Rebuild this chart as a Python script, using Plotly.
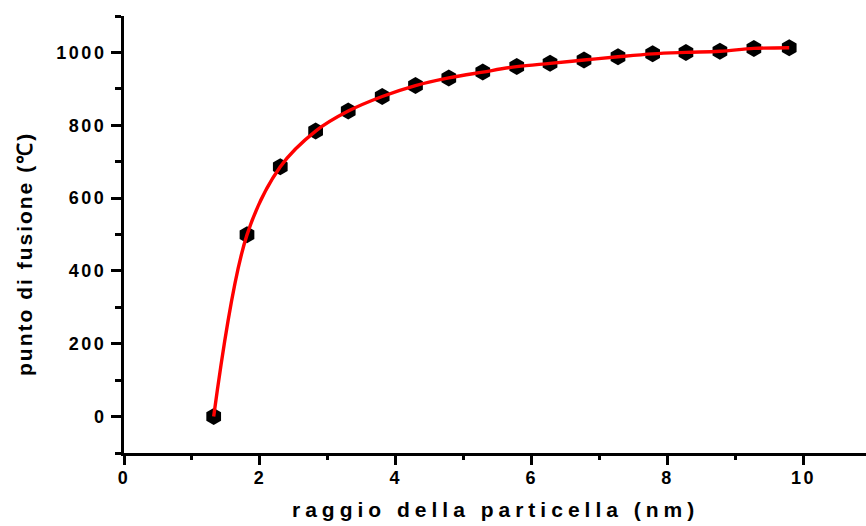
import plotly.graph_objects as go

# data
radius_nm = [1.32, 1.81, 2.30, 2.82, 3.30, 3.80, 4.29, 4.78, 5.28, 5.78,
             6.27, 6.77, 7.27, 7.78, 8.27, 8.77, 9.27, 9.79]
melting_C = [0, 499, 686, 784, 839, 879, 909, 930, 946, 961,
             970, 979, 988, 996, 1000, 1003, 1011, 1013]
x_ticks = [0, 2, 4, 6, 8, 10]
y_ticks = [0, 200, 400, 600, 800, 1000]
x_title = "raggio della particella (nm)"
y_title = "punto di fusione (℃)"

FONT = "Liberation Sans, Arial, sans-serif"

fig = go.Figure()
fig.add_trace(go.Scatter(
    x=radius_nm, y=melting_C, mode="markers",
    marker=dict(symbol="hexagon", size=17, color="black",
                line=dict(width=0)),
    showlegend=False, hoverinfo="skip"))
fig.add_trace(go.Scatter(
    x=radius_nm, y=melting_C, mode="lines",
    line=dict(color="#ff0000", width=3.4, shape="spline", smoothing=1.0),
    showlegend=False, hoverinfo="skip"))

axis_common = dict(
    showline=True, linecolor="black", linewidth=3,
    showgrid=False, zeroline=False, mirror=False, automargin=False,
    ticks="outside", tickcolor="black", tickwidth=3,
    tickfont=dict(family=FONT, size=18, color="black", weight=700),
)

fig.update_layout(
    width=866, height=526,
    margin=dict(l=124, r=0, t=16, b=73),
    paper_bgcolor="white", plot_bgcolor="white",
    xaxis=dict(range=[0, 10.92], tickvals=x_ticks,
               ticktext=[str(v) for v in x_ticks], ticklen=9,
               ticklabelstandoff=-3,
               minor=dict(dtick=1, tick0=0, ticklen=4, tickwidth=3,
                          tickcolor="black", ticks="outside"),
               **axis_common),
    yaxis=dict(range=[-100, 1100], tickvals=y_ticks,
               ticktext=[str(v) for v in y_ticks], ticklen=10,
               ticklabelstandoff=1,
               minor=dict(dtick=100, tick0=-100, ticklen=6, tickwidth=3,
                          tickcolor="black", ticks="outside"),
               **axis_common),
    annotations=[
        dict(text=x_title, xref="paper", yref="paper", x=0.5, y=(453-510)/437,
             xanchor="center", yanchor="middle", showarrow=False,
             font=dict(family=FONT, size=21, color="black", weight=700)),
        dict(text=y_title, xref="paper", yref="paper", x=-100/742, y=(453-254)/437,
             xanchor="center", yanchor="middle", showarrow=False, textangle=-90,
             font=dict(family=FONT, size=21, color="black", weight=700)),
    ],
)

post = """
document.body.style.margin = '0';
document.documentElement.style.margin = '0';
var gd = document.getElementsByClassName('plotly-graph-div')[0];
function spacing(){
  gd.querySelectorAll('.xtick text, .ytick text').forEach(function(e){e.style.letterSpacing='2.5px';});
  var a = gd.querySelectorAll('.annotation-text');
  if (a.length > 0) { a[0].style.letterSpacing = '5px'; }
  if (a.length > 1) { a[1].style.letterSpacing = '2px'; }
}
spacing();
gd.on('plotly_afterplot', spacing);
"""

fig.write_html("out.html", post_script=post, config={"displayModeBar": False})
